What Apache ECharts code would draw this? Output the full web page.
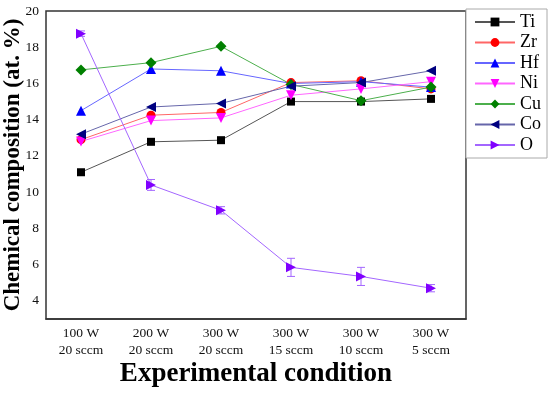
<!DOCTYPE html>
<html><head><meta charset="utf-8">
<script src="https://cdn.jsdelivr.net/npm/echarts@6/dist/echarts.min.js"></script>
<style>html,body{margin:0;padding:0;background:#fff}#c{width:550px;height:394px}</style>
</head><body><div id="c"></div>
<script>
var categories = ['100 W\n20 sccm','200 W\n20 sccm','300 W\n20 sccm','300 W\n15 sccm','300 W\n10 sccm','300 W\n5 sccm'];
var Ti = [11.1, 12.78, 12.87, 15.0, 15.0, 15.15];
var Zr = [12.9, 14.25, 14.4, 16.05, 16.15, 15.7];
var Hf = [14.5, 16.8, 16.7, 16.0, 16.1, 15.8];
var Ni = [12.8, 13.95, 14.1, 15.35, 15.7, 16.1];
var Cu = [16.75, 17.15, 18.05, 15.95, 15.05, 15.8];
var Co = [13.2, 14.7, 14.9, 15.85, 16.05, 16.7];
var O  = [18.75, 10.4, 9.0, 5.85, 5.35, 4.7];
var Oerr = [0.15, 0.3, 0.2, 0.5, 0.5, 0.2];
var yTicks = [4, 6, 8, 10, 12, 14, 16, 18, 20];

var defs = [
  {name:'Ti', data:Ti, color:'#000000', line:'#555555', symbol:'rect', size:8},
  {name:'Zr', data:Zr, color:'#ff0000', line:'#ff6666', symbol:'circle', size:9},
  {name:'Hf', data:Hf, color:'#0000ff', line:'#6666ff', symbol:'triangle', size:10},
  {name:'Ni', data:Ni, color:'#ff00ff', line:'#ff66ff', symbol:'path://M0,0 L10,0 L5,9 Z', size:10},
  {name:'Cu', data:Cu, color:'#008000', line:'#4caf4c', symbol:'diamond', size:11},
  {name:'Co', data:Co, color:'#000080', line:'#6666aa', symbol:'path://M0,5 L9,0 L9,10 Z', size:10},
  {name:'O',  data:O,  color:'#8000ff', line:'#a366ff', symbol:'path://M0,0 L9,5 L0,10 Z', size:10}
];

var series = defs.map(function(d){
  return {name:d.name, type:'line', data:d.data, symbol:d.symbol, symbolSize:d.size,
    itemStyle:{color:d.color}, lineStyle:{color:d.line, width:1}, z:3};
});
series.push({
  type:'custom', name:'Oerr', silent:true, z:2,
  data: O.map(function(v,i){return [i, v-Oerr[i], v+Oerr[i]];}),
  renderItem: function(params, api){
    var lo = api.coord([api.value(0), api.value(1)]);
    var hi = api.coord([api.value(0), api.value(2)]);
    var w = 4;
    var st = {stroke:'#a366ff', lineWidth:1};
    return {type:'group', children:[
      {type:'line', shape:{x1:lo[0],y1:lo[1],x2:hi[0],y2:hi[1]}, style:st},
      {type:'line', shape:{x1:lo[0]-w,y1:lo[1],x2:lo[0]+w,y2:lo[1]}, style:st},
      {type:'line', shape:{x1:hi[0]-w,y1:hi[1],x2:hi[0]+w,y2:hi[1]}, style:st}
    ]};
  }
});

var chart = echarts.init(document.getElementById('c'));
chart.setOption({
  animation:false,
  grid:{left:46, right:84, top:11, bottom:75, show:true, borderColor:'#333', borderWidth:1.5,
        containLabel:false, outerBoundsMode:'none'},
  legend:{
    orient:'vertical', right:3, top:9, itemGap:2.5, itemWidth:40, itemHeight:11,
    data:defs.map(function(d){return d.name;}),
    backgroundColor:'#fff', borderColor:'#aaa', borderWidth:1, padding:[4,6,4,8],
    textStyle:{fontFamily:'Liberation Serif', fontSize:18, color:'#000'}
  },
  xAxis:{
    type:'category', data:categories, boundaryGap:true,
    axisLine:{lineStyle:{color:'#333', width:1.5}}, axisTick:{show:false},
    axisLabel:{fontFamily:'Liberation Serif', fontSize:13.5, color:'#111', lineHeight:17, margin:6},
    name:'Experimental condition', nameLocation:'middle', nameGap:42, nameMoveOverlap:false,
    nameTextStyle:{fontFamily:'Liberation Serif', fontSize:27, fontWeight:'bold', color:'#000'}
  },
  yAxis:{
    type:'value', min:3, max:20, interval:1,
    axisLine:{lineStyle:{color:'#333', width:1.5}}, axisTick:{show:false}, splitLine:{show:false},
    axisLabel:{fontFamily:'Liberation Serif', fontSize:13.5, color:'#111', margin:7,
      formatter:function(v){return yTicks.indexOf(v)>=0 ? String(v) : '';}},
    name:'Chemical composition (at. %)', nameLocation:'middle', nameGap:21, nameMoveOverlap:false,
    nameTextStyle:{fontFamily:'Liberation Serif', fontSize:23, fontWeight:'bold', color:'#000'}
  },
  series:series
});
</script></body></html>
